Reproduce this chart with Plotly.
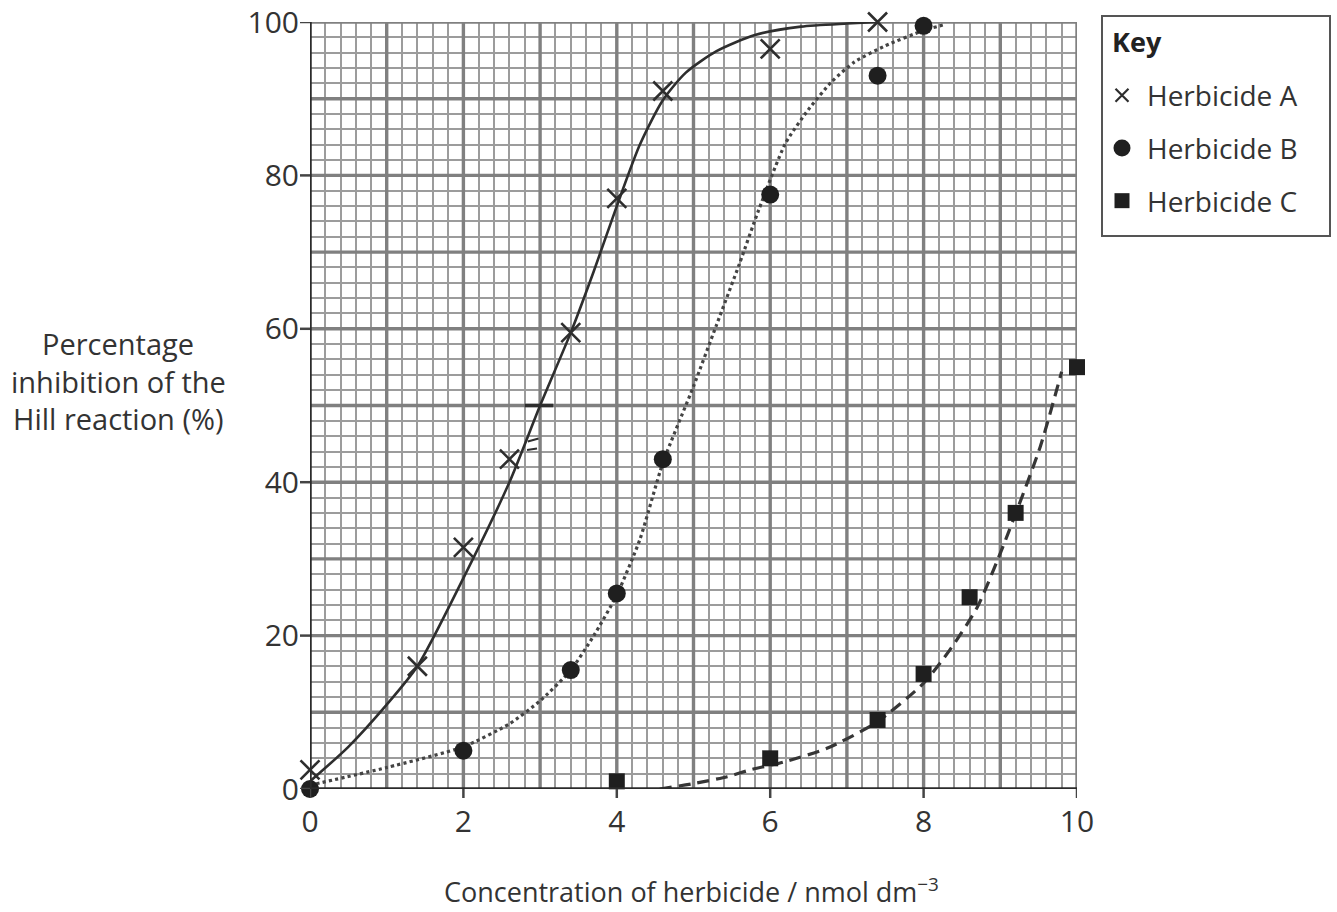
import plotly.graph_objects as go

# ---- data -------------------------------------------------------------
conc_a = [0, 1.4, 2.0, 2.6, 3.4, 4.0, 4.6, 6.0, 7.4]
inhib_a = [2.5, 16, 31.5, 43, 59.5, 77, 91, 96.5, 100]

conc_b = [0, 2.0, 3.4, 4.0, 4.6, 6.0, 7.4, 8.0]
inhib_b = [0, 5, 15.5, 25.5, 43, 77.5, 93, 99.5]

conc_c = [4.0, 6.0, 7.4, 8.0, 8.6, 9.2, 10.0]
inhib_c = [1, 4, 9, 15, 25, 36, 55]

# hand-drawn curves of best fit
fit_a_x = [0, 0.5, 1.0, 1.4, 2.0, 2.6, 3.0, 3.4, 3.7, 4.0, 4.3, 4.6, 4.9, 5.3, 5.8, 6.4, 7.0, 7.4]
fit_a_y = [1, 5.5, 11, 16, 27.5, 40, 50, 59.5, 67.5, 76, 84, 89.8, 93.4, 96.2, 98.3, 99.4, 99.8, 100]

fit_b_x = [0, 1.0, 2.0, 2.6, 3.0, 3.4, 3.7, 4.0, 4.3, 4.6, 5.0, 5.3, 5.6, 5.85, 6.2, 6.5, 6.8, 7.1, 7.5, 8.0, 8.25]
fit_b_y = [0.5, 2.8, 5.5, 8.5, 11.5, 15.5, 20, 25.3, 32.5, 42.5, 52.5, 60.5, 68.5, 75.5, 84.2, 88.6, 92.2, 94.8, 96.9, 98.9, 99.6]

fit_c_x = [4.56, 5.0, 5.44, 5.74, 6.17, 6.74, 7.39, 8.0, 8.34, 8.7, 9.05, 9.52, 9.8]
fit_c_y = [0, 0.7, 1.6, 2.5, 3.5, 5.3, 8.7, 13.8, 18.1, 23.7, 32.0, 44.6, 54.4]

# reading marks for 50 % inhibition on curve A
half_mark_x = [2.8, 3.17]
half_mark_y = [50, 50]
tick_marks_x = [[2.84, 2.98], [2.83, 2.96]]
tick_marks_y = [[45.3, 45.7], [44.2, 44.4]]

x_labels = [0, 2, 4, 6, 8, 10]
y_labels = [0, 20, 40, 60, 80, 100]
x_major_grid = [1, 2, 3, 4, 5, 6, 7, 8, 9, 10]
y_major_grid = [10, 20, 30, 40, 50, 60, 70, 80, 90, 100]
series_names = ["Herbicide A", "Herbicide B", "Herbicide C"]

# ---- page geometry (pixels of a 1337 x 912 page) ----------------------
W, H = 1337, 912
PL, PR, PT, PB = 310, 1077, 22, 789


def px(x):
    return x / W


def py(y):
    return 1 - y / H


INK = "#2e2e2e"
TXT = "#333333"
FONT = "Open Sans"
GRID_MAJOR = "#808080"
GRID_MINOR = "#9c9c9c"

fig = go.Figure()

# fitted lines
fig.add_trace(go.Scatter(x=fit_a_x, y=fit_a_y, mode="lines", line=dict(color=INK, width=2.6, shape="spline", smoothing=0.7),
                         showlegend=False, hoverinfo="skip", cliponaxis=False))
fig.add_trace(go.Scatter(x=fit_b_x, y=fit_b_y, mode="lines", line=dict(color="#444444", width=3.2, dash="dot", shape="spline", smoothing=0.6),
                         showlegend=False, hoverinfo="skip", cliponaxis=False))
fig.add_trace(go.Scatter(x=fit_c_x, y=fit_c_y, mode="lines", line=dict(color="#363636", width=3.2, dash="12px,7px", shape="spline", smoothing=0.6),
                         showlegend=False, hoverinfo="skip", cliponaxis=False))

# reading marks
fig.add_trace(go.Scatter(x=half_mark_x, y=half_mark_y, mode="lines", line=dict(color=INK, width=3.5),
                         showlegend=False, hoverinfo="skip"))
for mx, my in zip(tick_marks_x, tick_marks_y):
    fig.add_trace(go.Scatter(x=mx, y=my, mode="lines", line=dict(color=INK, width=2),
                             showlegend=False, hoverinfo="skip"))

# data points
fig.add_trace(go.Scatter(x=conc_a, y=inhib_a, mode="markers", name=series_names[0],
                         marker=dict(symbol="x-thin", size=19, line=dict(color=INK, width=2.6)),
                         cliponaxis=False, showlegend=False))
fig.add_trace(go.Scatter(x=conc_b, y=inhib_b, mode="markers", name=series_names[1],
                         marker=dict(symbol="circle", size=18, color="#1f1f1f", line=dict(width=0)),
                         cliponaxis=False, showlegend=False))
fig.add_trace(go.Scatter(x=conc_c, y=inhib_c, mode="markers", name=series_names[2],
                         marker=dict(symbol="square", size=16, color="#1f1f1f", line=dict(width=0)),
                         cliponaxis=False, showlegend=False))

# key symbols on a small helper axis inside the key box
key_rows = [0, 1, 2]
fig.add_trace(go.Scatter(x=[0], y=[key_rows[0]], mode="markers", xaxis="x2", yaxis="y2",
                         marker=dict(symbol="x-thin", size=13, line=dict(color=INK, width=2.2)),
                         showlegend=False, hoverinfo="skip"))
fig.add_trace(go.Scatter(x=[0], y=[key_rows[1]], mode="markers", xaxis="x2", yaxis="y2",
                         marker=dict(symbol="circle", size=17, color="#1f1f1f"),
                         showlegend=False, hoverinfo="skip"))
fig.add_trace(go.Scatter(x=[0], y=[key_rows[2]], mode="markers", xaxis="x2", yaxis="y2",
                         marker=dict(symbol="square", size=15, color="#1f1f1f"),
                         showlegend=False, hoverinfo="skip"))

shapes = []
# heavier grid lines every 1 unit / every 10 %
for v in x_major_grid:
    shapes.append(dict(type="line", xref="x", yref="y", x0=v, x1=v, y0=0, y1=100, layer="between",
                       line=dict(color=GRID_MAJOR, width=3.4)))
for v in y_major_grid:
    shapes.append(dict(type="line", xref="x", yref="y", x0=0, x1=10, y0=v, y1=v, layer="between",
                       line=dict(color=GRID_MAJOR, width=3.4)))
# outward tick marks at labelled values
for v in x_labels:
    shapes.append(dict(type="line", xref="x", yref="paper", x0=v, x1=v, y0=py(PB), y1=py(PB + 9),
                       line=dict(color="#444444", width=2.5)))
for v in y_labels:
    shapes.append(dict(type="line", xref="paper", yref="y", x0=px(PL - 10), x1=px(PL), y0=v, y1=v,
                       line=dict(color="#444444", width=2.5)))
# axis lines
shapes.append(dict(type="line", xref="x", yref="y", x0=0, x1=0, y0=0, y1=100,
                   line=dict(color="#2b2b2b", width=3.5)))
shapes.append(dict(type="line", xref="x", yref="y", x0=0, x1=10, y0=0, y1=0,
                   line=dict(color="#2b2b2b", width=3.5)))
# key box
shapes.append(dict(type="rect", xref="paper", yref="paper", x0=px(1102), x1=px(1330), y0=py(236), y1=py(16),
                   line=dict(color="#555555", width=2), fillcolor="rgba(0,0,0,0)"))

annotations = []
annotations.append(dict(text="Concentration of herbicide / nmol dm<sup>−3</sup>", xref="paper", yref="paper",
                        x=px(691), y=py(890), xanchor="center", yanchor="middle", showarrow=False,
                        font=dict(family=FONT, size=27, color=TXT)))
for i, line in enumerate(["Percentage", "inhibition of the", "Hill reaction (%)"]):
    annotations.append(dict(text=line, xref="paper", yref="paper", x=px(118), y=py(343 + 38 * i),
                            xanchor="center", yanchor="middle", showarrow=False,
                            font=dict(family=FONT, size=29, color=TXT)))
annotations.append(dict(text="<b>Key</b>", xref="paper", yref="paper", x=px(1110), y=py(42),
                        xanchor="left", yanchor="middle", showarrow=False,
                        font=dict(family=FONT, size=27, color="#222222")))
for i, name in enumerate(series_names):
    annotations.append(dict(text=name, xref="paper", yref="paper", x=px(1145), y=py(95 + 53 * i),
                            xanchor="left", yanchor="middle", showarrow=False,
                            font=dict(family=FONT, size=28, color=TXT)))

fig.update_layout(
    width=W, height=H,
    margin=dict(l=0, r=0, t=0, b=0, autoexpand=False),
    paper_bgcolor="white", plot_bgcolor="white",
    font=dict(family=FONT, color=TXT),
    shapes=shapes, annotations=annotations,
    xaxis=dict(domain=[px(PL), px(PR)], range=[0, 10], tickmode="array",
               tickvals=x_labels, ticktext=[str(v) for v in x_labels],
               ticks="", showgrid=False, automargin=False,
               minor=dict(dtick=0.2, showgrid=True, gridcolor=GRID_MINOR, gridwidth=2.1),
               showline=False, zeroline=False,
               tickfont=dict(family=FONT, size=30, color=TXT), ticklabelstandoff=12, fixedrange=True),
    yaxis=dict(domain=[py(PB), py(PT)], range=[0, 100], tickmode="array",
               tickvals=y_labels, ticktext=[str(v) for v in y_labels],
               ticks="", showgrid=False, automargin=False,
               minor=dict(dtick=2, showgrid=True, gridcolor=GRID_MINOR, gridwidth=2.1),
               showline=False, zeroline=False,
               tickfont=dict(family=FONT, size=30, color=TXT), ticklabelstandoff=10, fixedrange=True),
    xaxis2=dict(domain=[px(1110), px(1134)], range=[-1, 1], visible=False, fixedrange=True, automargin=False),
    yaxis2=dict(domain=[py(227), py(69)], range=[2.5, -0.5], visible=False, fixedrange=True, automargin=False),
)

fig.write_html("out.html")
